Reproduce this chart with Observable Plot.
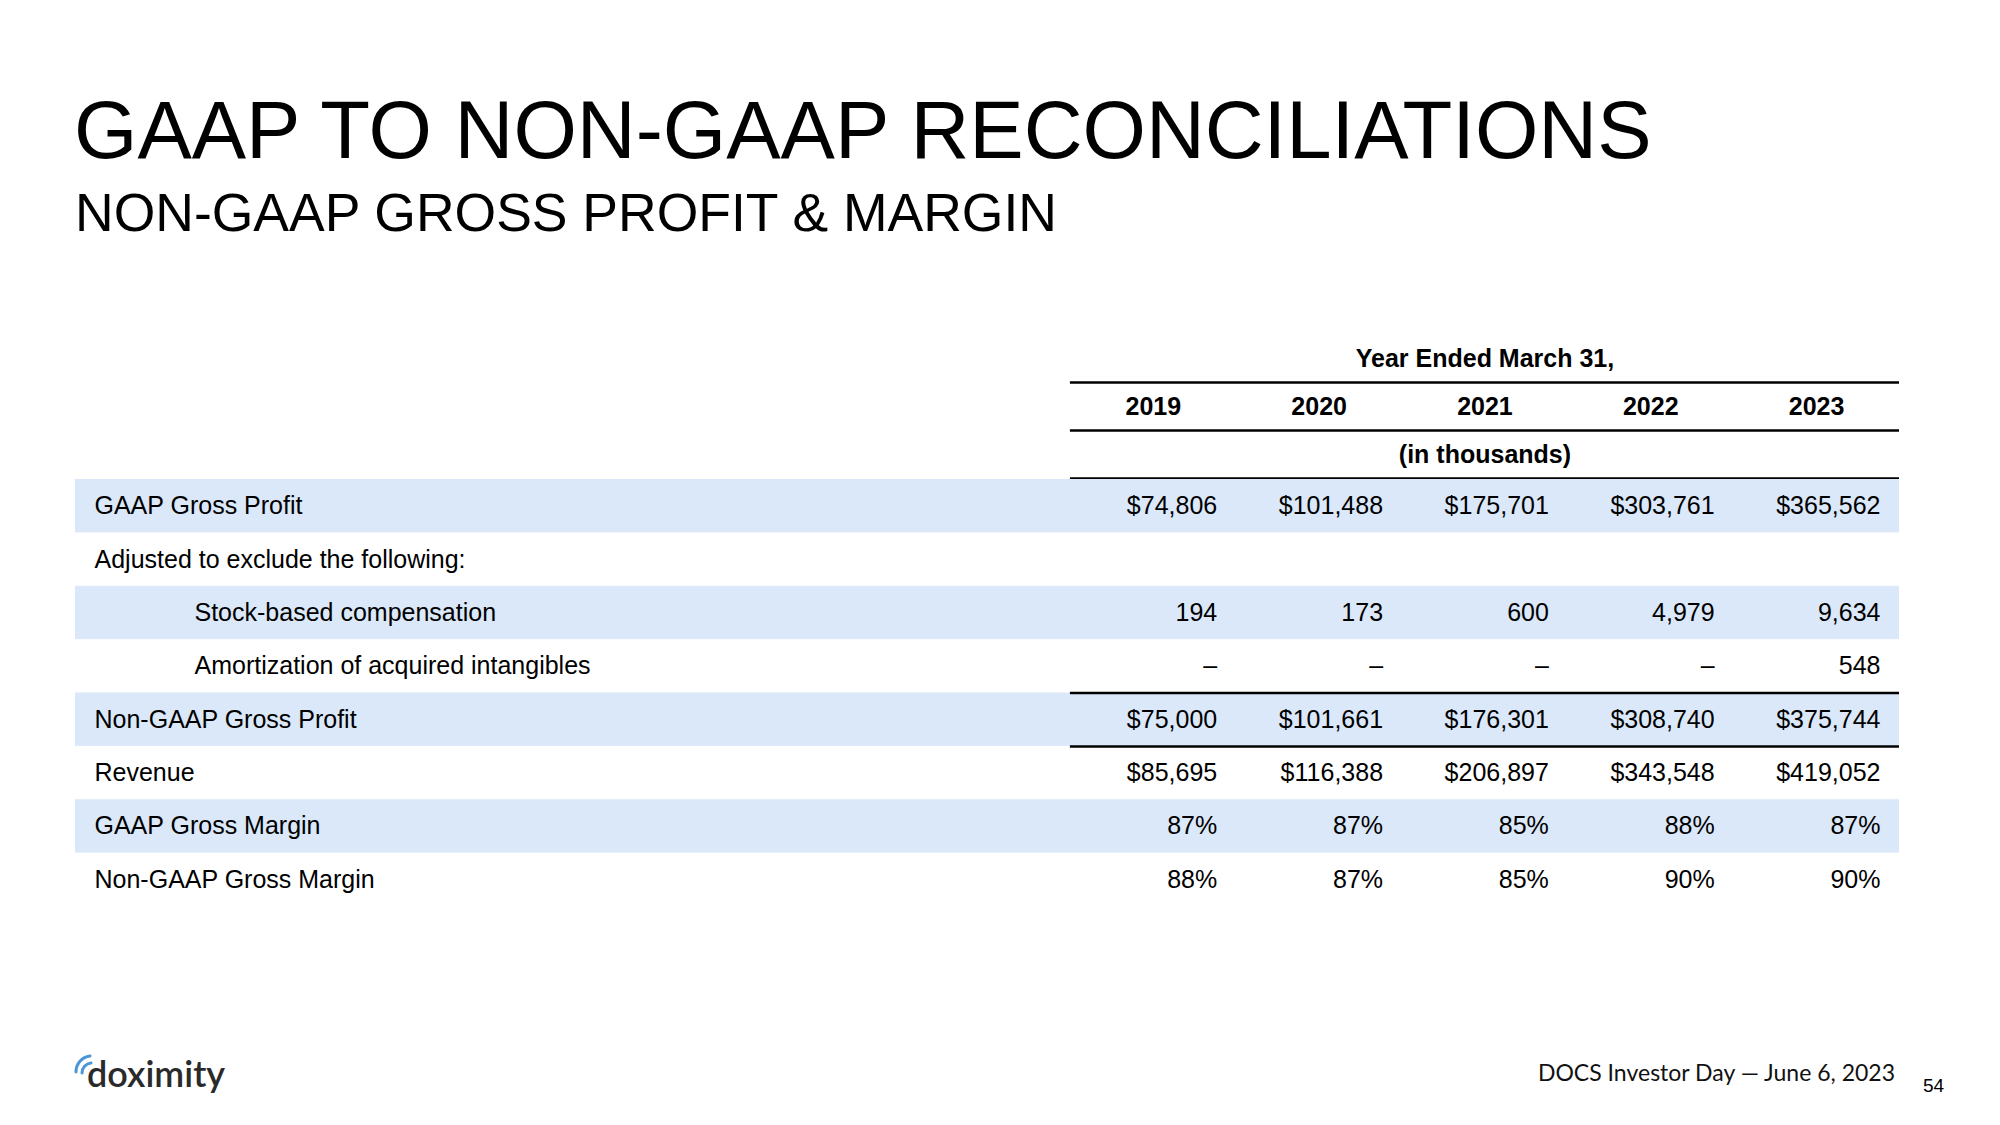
<!DOCTYPE html>
<html><head><meta charset="utf-8">
<script src="https://cdn.jsdelivr.net/npm/d3@7"></script>
<script src="https://cdn.jsdelivr.net/npm/@observablehq/plot@0.6"></script>
<style>
html,body{margin:0;padding:0;background:#fff;}
body{width:2000px;height:1125px;position:relative;overflow:hidden;font-family:"Liberation Sans",Arial,Helvetica,sans-serif;color:#000;}
.abs{position:absolute;white-space:nowrap;}
#title{left:74px;top:89px;font-size:81.5px;line-height:81.5px;}
#subtitle{left:75px;top:186px;font-size:53.5px;line-height:53.5px;}
#header{left:0;top:324px;}
#body{left:0;top:469px;}
#logoText{left:87px;top:1055px;font-family:Lato,"Open Sans",sans-serif;font-size:36px;line-height:36px;font-weight:600;color:#2a2a2a;}
#logoArc{left:72px;top:1050px;}
#footer{right:105px;top:1061px;font-family:Lato,"Open Sans",sans-serif;font-size:23px;line-height:23px;color:#111;}
#page{left:1923px;top:1076px;font-size:19px;line-height:19px;}
</style></head><body>
<div class="abs" id="title">GAAP TO NON-GAAP RECONCILIATIONS</div>
<div class="abs" id="subtitle">NON-GAAP GROSS PROFIT &amp; MARGIN</div>
<div class="abs" id="header"></div>
<div class="abs" id="body"></div>
<svg class="abs" id="logoArc" width="30" height="30" viewBox="0 0 30 30">
  <path d="M4 22 A16 16 0 0 1 18 6" fill="none" stroke="#4b95db" stroke-width="3" stroke-linecap="round"/>
  <path d="M10 23 A10 10 0 0 1 19 13" fill="none" stroke="#4b95db" stroke-width="3" stroke-linecap="round"/>
</svg>
<div class="abs" id="logoText">doximity</div>
<div class="abs" id="footer">DOCS Investor Day — June 6, 2023</div>
<div class="abs" id="page">54</div>
<script>
// ---- data ----
const years = ["2019", "2020", "2021", "2022", "2023"];
const headerTitle = "Year Ended March 31,";
const headerUnits = "(in thousands)";
const rowLabels = [
  "GAAP Gross Profit",
  "Adjusted to exclude the following:",
  "Stock-based compensation",
  "Amortization of acquired intangibles",
  "Non-GAAP Gross Profit",
  "Revenue",
  "GAAP Gross Margin",
  "Non-GAAP Gross Margin"
];
const rowIndented = [false, false, true, true, false, false, false, false];
const rowShaded = [true, false, true, false, true, false, true, false];
const gaapGrossProfit = [74806, 101488, 175701, 303761, 365562];
const stockComp = [194, 173, 600, 4979, 9634];
const amortization = [null, null, null, null, 548];
const nonGaapGrossProfit = [75000, 101661, 176301, 308740, 375744];
const revenue = [85695, 116388, 206897, 343548, 419052];
const gaapMargin = [87, 87, 85, 88, 87];
const nonGaapMargin = [88, 87, 85, 90, 90];
const ruleAfterRows = [3, 4];

// ---- build table ----
const fmt = d3.format(",");
const dollar = v => v == null ? "–" : "$" + fmt(v);
const plain = v => v == null ? "–" : fmt(v);
const pct = v => v == null ? "–" : v + "%";
const rowValues = [
  [gaapGrossProfit, dollar],
  null,
  [stockComp, plain],
  [amortization, plain],
  [nonGaapGrossProfit, dollar],
  [revenue, dollar],
  [gaapMargin, pct],
  [nonGaapMargin, pct]
];
const cells = [];
rowValues.forEach((rv, r) => {
  if (!rv) return;
  rv[0].forEach((v, c) => cells.push({row: r, col: c, text: rv[1](v)}));
});
const rows = rowLabels.map((label, i) => ({i, label, indented: rowIndented[i], shaded: rowShaded[i]}));

const FONT = "'Liberation Sans', Arial, Helvetica, sans-serif";
const SHADE = "#dae8f9";
const common = {
  width: 2000,
  marginLeft: 75,
  marginRight: 101,
  marginTop: 10,
  marginBottom: 10,
  style: {fontFamily: FONT, fontSize: "25px", background: "transparent", overflow: "visible"},
  x: {type: "linear", domain: [-6, 5], axis: null}
};

// header plot
const headerRows = [0, 1, 2];
const header = Plot.plot({
  ...common,
  height: 164,
  y: {type: "linear", domain: [-0.5, 2.5], reverse: true, axis: null},
  marks: [
    Plot.ruleY(headerRows, {y: d => d + 0.5, x1: () => 0, x2: () => 5, stroke: "#000", strokeWidth: 2.5}),
    Plot.text([headerTitle], {x: () => 2.5, y: () => 0, text: d => d, fontWeight: "bold", fontSize: 25, fill: "#000"}),
    Plot.text(years, {x: (d, i) => i + 0.5, y: () => 1, text: d => d, fontWeight: "bold", fontSize: 25, fill: "#000"}),
    Plot.text([headerUnits], {x: () => 2.5, y: () => 2, text: d => d, fontWeight: "bold", fontSize: 25, fill: "#000"})
  ]
});
document.getElementById("header").appendChild(header);

// body plot
const body = Plot.plot({
  ...common,
  height: 447,
  y: {type: "linear", domain: [-0.5, rowLabels.length - 0.5], reverse: true, axis: null},
  marks: [
    Plot.rect(rows.filter(d => d.shaded), {x1: () => -6, x2: () => 5, y1: d => d.i - 0.5, y2: d => d.i + 0.5, fill: SHADE}),
    Plot.ruleY(ruleAfterRows, {y: d => d + 0.5, x1: () => 0, x2: () => 5, stroke: "#000", strokeWidth: 2.5}),
    Plot.text(rows.filter(d => !d.indented), {x: () => -6, y: d => d.i, text: d => d.label, textAnchor: "start", dx: 19, fontSize: 25, fill: "#000"}),
    Plot.text(rows.filter(d => d.indented), {x: () => -6, y: d => d.i, text: d => d.label, textAnchor: "start", dx: 119, fontSize: 25, fill: "#000"}),
    Plot.text(cells, {x: d => d.col + 1, y: d => d.row, text: d => d.text, textAnchor: "end", dx: -19, fontSize: 25, fill: "#000"})
  ]
});
document.getElementById("body").appendChild(body);
</script>
</body></html>
